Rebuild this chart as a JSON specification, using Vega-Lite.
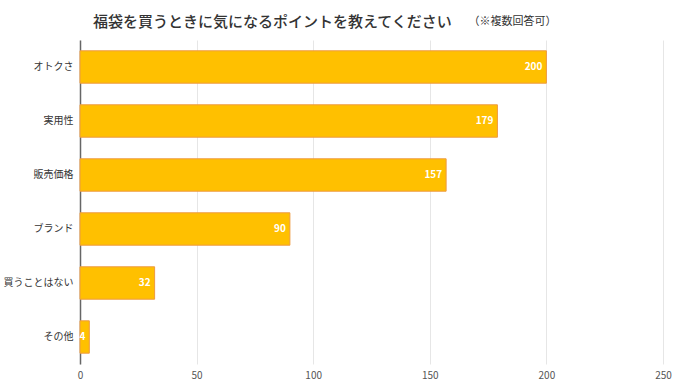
{
  "$schema": "https://vega.github.io/schema/vega-lite/v6.json",
  "width": 583,
  "height": 324,
  "autosize": {"type": "none"},
  "padding": {"left": 80, "top": 40, "right": 17, "bottom": 18},
  "background": "white",
  "config": {
    "view": {"stroke": null},
    "font": "Noto Sans CJK JP"
  },
  "title": {
    "text": "福袋を買うときに気になるポイントを教えてください",
    "anchor": "start",
    "frame": "group",
    "dx": 13,
    "offset": -15,
    "fontSize": 15,
    "fontWeight": 500,
    "color": "#333333",
    "font": "Noto Sans CJK JP"
  },
  "resolve": {"axis": {"x": "independent"}},
  "data": {
    "values": [
      {"item": "オトクさ", "count": 200},
      {"item": "実用性", "count": 179},
      {"item": "販売価格", "count": 157},
      {"item": "ブランド", "count": 90},
      {"item": "買うことはない", "count": 32},
      {"item": "その他", "count": 4}
    ]
  },
  "encoding": {
    "y": {
      "field": "item",
      "type": "nominal",
      "sort": null,
      "scale": {"paddingInner": 0.4, "paddingOuter": 0.2},
      "axis": {
        "title": null,
        "ticks": false,
        "labelPadding": 7,
        "labelFontSize": 10,
        "labelColor": "#333333",
        "domainColor": "#666666",
        "domainWidth": 1.5
      }
    }
  },
  "layer": [
    {
      "mark": {"type": "bar", "color": "#FFC000", "stroke": "#EE9A40", "strokeWidth": 1},
      "encoding": {
        "x": {
          "field": "count",
          "type": "quantitative",
          "scale": {"domain": [0, 250]},
          "axis": {
            "orient": "bottom",
            "title": null,
            "values": [0, 50, 100, 150, 200, 250],
            "domain": false,
            "ticks": false,
            "labelPadding": 6,
            "labelFontSize": 10,
            "labelColor": "#555555",
            "gridColor": "#e6e6e6",
            "labelFlush": false
          }
        }
      }
    },
    {
      "mark": {"type": "text", "align": "right", "baseline": "middle", "dx": -4, "color": "white", "fontSize": 10, "fontWeight": "bold"},
      "encoding": {
        "text": {"field": "count", "type": "quantitative"},
        "x": {
          "field": "count",
          "type": "quantitative",
          "scale": {"domain": [0, 250]},
          "axis": {
            "orient": "top",
            "labels": false,
            "ticks": false,
            "domain": false,
            "grid": false,
            "title": "（※複数回答可）",
            "titleFontSize": 11,
            "titleFontWeight": "normal",
            "titleColor": "#333333",
            "titleAlign": "left",
            "titleAnchor": "start",
            "titleBaseline": "middle",
            "titleX": 388,
            "titleY": -19
          }
        }
      }
    }
  ]
}
